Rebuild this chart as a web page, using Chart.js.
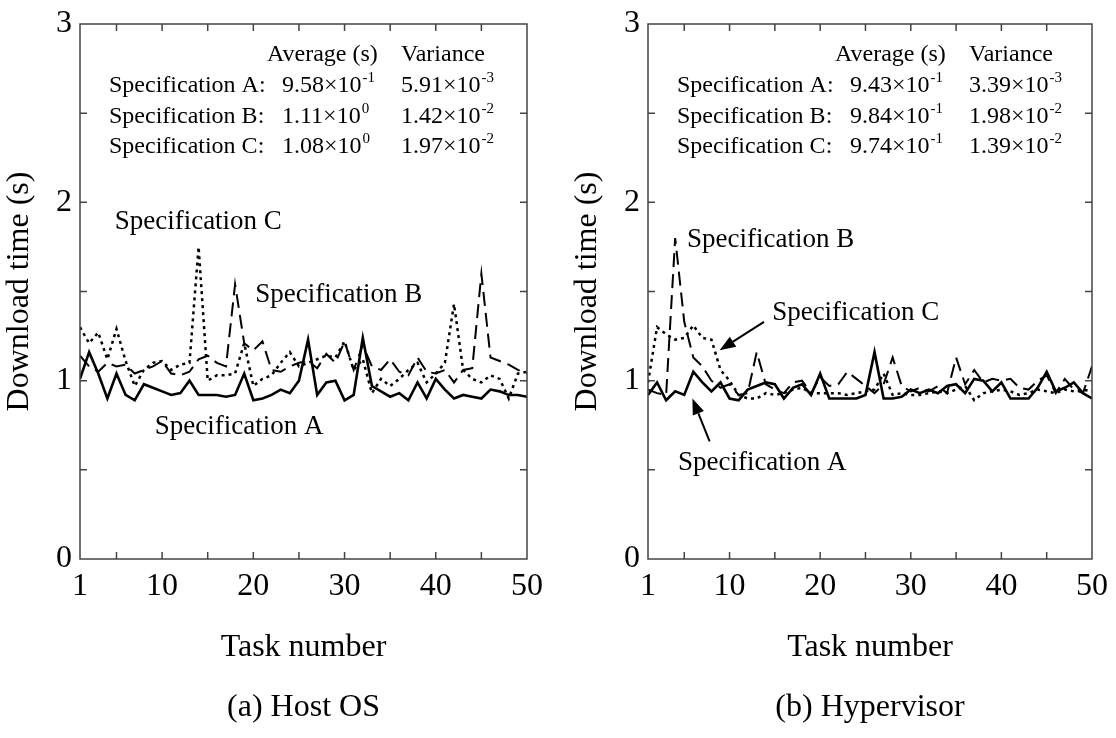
<!DOCTYPE html>
<html>
<head>
<meta charset="utf-8">
<script src="https://cdn.jsdelivr.net/npm/chart.js@4.4.0/dist/chart.umd.min.js"></script>
<style>
  html, body { margin: 0; padding: 0; background: #fff; }
  #wrap { position: relative; width: 1116px; height: 738px; }
  .panel { position: absolute; top: 0; width: 558px; height: 738px; }
</style>
</head>
<body>
<div id="wrap">
  <div class="panel" style="left:0"><canvas id="hostChart" width="558" height="738"></canvas></div>
  <div class="panel" style="left:558px"><canvas id="hyperChart" width="558" height="738"></canvas></div>
</div>
<script>
// Número de tarea (eje x)
const tasks = [1,2,3,4,5,6,7,8,9,10,11,12,13,14,15,16,17,18,19,20,21,22,23,24,25,
  26,27,28,29,30,31,32,33,34,35,36,37,38,39,40,41,42,43,44,45,46,47,48,49,50];
const xTickLabels = [1, 10, 20, 30, 40, 50];
const xTickMarks = [5, 10, 15, 20, 25, 30, 35, 40, 45];
const yTickLabels = [0, 1, 2, 3];
const yTickMarks = [0.5, 1, 1.5, 2, 2.5];

const seriesNames = ["Specification A", "Specification B", "Specification C"];

// (a) Host OS
const hostA = [1.01,1.16,1.04,0.90,1.04,0.92,0.89,0.98,0.96,0.94, 0.92,0.93,1.00,0.92,0.92,0.92,0.91,0.92,1.04,0.89,
  0.90,0.92,0.95,0.93,1.00,1.23,0.92,0.99,1.00,0.89, 0.92,1.24,0.97,0.94,0.91,0.93,0.89,0.99,0.90,1.01,
  0.95,0.90,0.92,0.91,0.90,0.95,0.94,0.92,0.92,0.91];
const hostB = [1.14,1.08,1.05,1.10,1.08,1.09,1.04,1.06,1.08,1.11, 1.04,1.03,1.05,1.12,1.14,1.10,1.08,1.54,1.21,1.17,
  1.22,1.06,1.05,1.08,1.10,1.11,1.07,1.15,1.10,1.22, 1.06,1.20,1.08,1.06,1.12,1.05,1.03,1.13,1.05,1.04,
  1.06,0.99,1.06,1.07,1.60,1.13,1.11,1.09,1.06,1.04];
const hostC = [1.30,1.21,1.27,1.12,1.29,1.11,0.97,1.06,1.10,1.11, 1.06,1.09,1.10,1.75,1.00,1.03,1.03,1.04,1.21,0.97,
  1.01,1.03,1.10,1.16,1.08,1.10,1.12,1.14,1.13,1.22, 1.06,1.12,0.93,1.01,0.97,1.01,1.06,1.10,0.99,1.04,
  1.10,1.43,1.06,1.01,0.99,1.03,1.01,0.90,1.04,1.05];

// (b) Hypervisor
const hyperA = [0.92,0.99,0.89,0.94,0.92,1.05,0.99,0.94,0.99,0.90, 0.89,0.95,0.97,0.99,0.98,0.90,0.96,0.98,0.92,1.04,
  0.90,0.90,0.90,0.90,0.92,1.16,0.90,0.90,0.91,0.95, 0.93,0.95,0.93,0.97,0.98,0.93,1.01,1.00,0.94,0.99,
  0.90,0.90,0.90,0.96,1.05,0.94,0.96,0.99,0.93,0.90];
const hyperB = [0.95,0.93,0.92,1.80,1.33,1.13,1.08,1.00,0.96,0.98, 0.92,0.93,1.16,0.98,0.95,0.93,0.99,1.00,0.93,1.02,
  0.97,0.98,1.05,1.01,0.97,0.93,0.98,1.13,0.97,0.94, 0.96,0.94,0.97,0.93,1.13,0.98,1.06,0.99,1.01,1.00,
  1.01,0.96,0.95,1.00,1.03,0.93,1.01,0.95,0.93,1.08];
const hyperC = [0.99,1.30,1.26,1.23,1.24,1.31,1.24,1.23,1.06,1.00, 0.92,0.90,0.90,0.93,0.92,0.93,0.95,0.96,0.93,0.93,
  0.93,0.93,0.92,0.93,0.94,0.95,1.04,0.92,0.93,0.92, 0.92,0.93,0.94,0.93,0.95,0.97,0.89,0.93,0.94,0.95,
  0.94,0.92,0.93,0.95,0.94,0.93,0.95,0.94,0.95,0.94];

// Tabla de promedio y varianza (mantisa, exponente)
const hostAvg = ["9.58", "1.11", "1.08"];
const hostAvgExp = ["-1", "0", "0"];
const hostVar = ["5.91", "1.42", "1.97"];
const hostVarExp = ["-3", "-2", "-2"];
const hyperAvg = ["9.43", "9.84", "9.74"];
const hyperAvgExp = ["-1", "-1", "-1"];
const hyperVar = ["3.39", "1.98", "1.39"];
const hyperVarExp = ["-3", "-2", "-2"];

const FONT = '"Liberation Serif", "Times New Roman", serif';

// Marco con marcas hacia dentro en los cuatro lados
const frameTicks = {
  id: "frameTicks",
  afterDatasetsDraw(chart) {
    const { ctx, chartArea: a, scales: { x, y } } = chart;
    ctx.save();
    ctx.strokeStyle = "#444";
    ctx.lineWidth = 1.5;
    ctx.strokeRect(a.left, a.top, a.right - a.left, a.bottom - a.top);
    ctx.beginPath();
    xTickMarks.forEach(v => {
      const px = x.getPixelForValue(v);
      ctx.moveTo(px, a.bottom); ctx.lineTo(px, a.bottom - 7);
      ctx.moveTo(px, a.top); ctx.lineTo(px, a.top + 7);
    });
    yTickMarks.forEach(v => {
      const py = y.getPixelForValue(v);
      ctx.moveTo(a.left, py); ctx.lineTo(a.left + 7, py);
      ctx.moveTo(a.right, py); ctx.lineTo(a.right - 7, py);
    });
    ctx.stroke();
    ctx.restore();
  }
};

function drawPow(ctx, x, y, mant, exp) {
  ctx.font = "24px " + FONT;
  const base = mant + "\u00d710";
  ctx.fillText(base, x, y);
  const w = ctx.measureText(base).width;
  ctx.font = "15px " + FONT;
  ctx.fillText(exp, x + w + 1, y - 10);
}

// Tabla, etiquetas de series y flechas
const notes = {
  id: "notes",
  afterDraw(chart, args, opts) {
    const { ctx, chartArea: a, scales: { x, y } } = chart;
    ctx.save();
    ctx.fillStyle = "#000";
    ctx.strokeStyle = "#000";
    ctx.textAlign = "left";
    ctx.textBaseline = "alphabetic";

    ctx.font = "24px " + FONT;
    ctx.fillText("Average (s)", a.left + 187, a.top + 37);
    ctx.fillText("Variance", a.left + 321, a.top + 37);
    seriesNames.forEach((name, i) => {
      const by = a.top + 68 + i * 30.5;
      ctx.font = "24px " + FONT;
      ctx.fillText(name + ":", a.left + 29, by);
      drawPow(ctx, a.left + 202, by, opts.avg[i], opts.avgExp[i]);
      drawPow(ctx, a.left + 321, by, opts.vr[i], opts.vrExp[i]);
    });

    ctx.font = "27px " + FONT;
    opts.labels.forEach(l => {
      ctx.fillText(seriesNames[l.series], x.getPixelForValue(l.x), y.getPixelForValue(l.y) + 9);
    });

    ctx.lineWidth = 2;
    opts.arrows.forEach(ar => {
      const x1 = x.getPixelForValue(ar.from[0]), y1 = y.getPixelForValue(ar.from[1]);
      const x2 = x.getPixelForValue(ar.to[0]), y2 = y.getPixelForValue(ar.to[1]);
      const ang = Math.atan2(y2 - y1, x2 - x1);
      const c = Math.cos(ang), s = Math.sin(ang);
      const hl = 16, hw = 6;
      ctx.beginPath();
      ctx.moveTo(x1, y1);
      ctx.lineTo(x2 - hl * c, y2 - hl * s);
      ctx.stroke();
      ctx.beginPath();
      ctx.moveTo(x2, y2);
      ctx.lineTo(x2 - hl * c + hw * s, y2 - hl * s - hw * c);
      ctx.lineTo(x2 - hl * c - hw * s, y2 - hl * s + hw * c);
      ctx.closePath();
      ctx.fill();
    });
    ctx.restore();
  }
};

function makeChart(id, a, b, c, noteCfg, caption, padLeft, padRight) {
  const pts = vals => tasks.map((t, i) => ({ x: t, y: vals[i] }));
  const axisFont = { family: FONT, size: 32 };
  return new Chart(document.getElementById(id), {
    type: "line",
    data: {
      datasets: [
        { label: seriesNames[0], data: pts(a), borderColor: "#000", borderWidth: 2.6, pointRadius: 0, tension: 0 },
        { label: seriesNames[1], data: pts(b), borderColor: "#000", borderWidth: 2, borderDash: [14, 7], pointRadius: 0, tension: 0 },
        { label: seriesNames[2], data: pts(c), borderColor: "#000", borderWidth: 2.5, borderDash: [3, 4], pointRadius: 0, tension: 0 }
      ]
    },
    options: {
      responsive: false,
      animation: false,
      devicePixelRatio: 1,
      layout: { padding: { left: padLeft, right: padRight, top: 16, bottom: 0 } },
      plugins: {
        legend: { display: false },
        tooltip: { enabled: false },
        title: {
          display: true, text: caption, position: "bottom", fullSize: false,
          color: "#000", font: { family: FONT, size: 32, weight: "normal" },
          padding: { top: 21.6, bottom: 10.8 }
        },
        notes: noteCfg
      },
      scales: {
        x: {
          type: "linear", min: 1, max: 50,
          afterBuildTicks: s => { s.ticks = xTickLabels.map(v => ({ value: v })); },
          afterFit: s => { s.height = 108.2; },
          grid: { drawOnChartArea: false, drawTicks: false },
          border: { display: false },
          ticks: { font: axisFont, color: "#000", padding: 8, maxRotation: 0, autoSkip: false },
          title: { display: true, text: "Task number", color: "#000", font: axisFont, padding: { top: 0, bottom: 0 } }
        },
        y: {
          min: 0, max: 3,
          afterBuildTicks: s => { s.ticks = yTickLabels.map(v => ({ value: v })); },
          afterFit: s => { s.width = 76; },
          grid: { drawOnChartArea: false, drawTicks: false },
          border: { display: false },
          ticks: { font: { family: FONT, size: 32, lineHeight: 1 }, color: "#000", padding: 8 },
          title: { display: true, text: "Download time (s)", color: "#000",
                   font: { family: FONT, size: 32, lineHeight: 1 }, padding: { top: 0, bottom: 0 } }
        }
      }
    },
    plugins: [frameTicks, notes]
  });
}

makeChart("hostChart", hostA, hostB, hostC, {
  avg: hostAvg, avgExp: hostAvgExp, vr: hostVar, vrExp: hostVarExp,
  labels: [
    { series: 2, x: 4.8, y: 1.90 },
    { series: 1, x: 20.2, y: 1.49 },
    { series: 0, x: 9.2, y: 0.75 }
  ],
  arrows: []
}, "(a) Host OS", 4, 31);

makeChart("hyperChart", hyperA, hyperB, hyperC, {
  avg: hyperAvg, avgExp: hyperAvgExp, vr: hyperVar, vrExp: hyperVarExp,
  labels: [
    { series: 1, x: 5.3, y: 1.80 },
    { series: 2, x: 14.7, y: 1.39 },
    { series: 0, x: 4.3, y: 0.55 }
  ],
  arrows: [
    { from: [13.8, 1.33], to: [8.9, 1.17] },
    { from: [7.8, 0.66], to: [5.9, 0.90] }
  ]
}, "(b) Hypervisor", 14, 20);
</script>
</body>
</html>
